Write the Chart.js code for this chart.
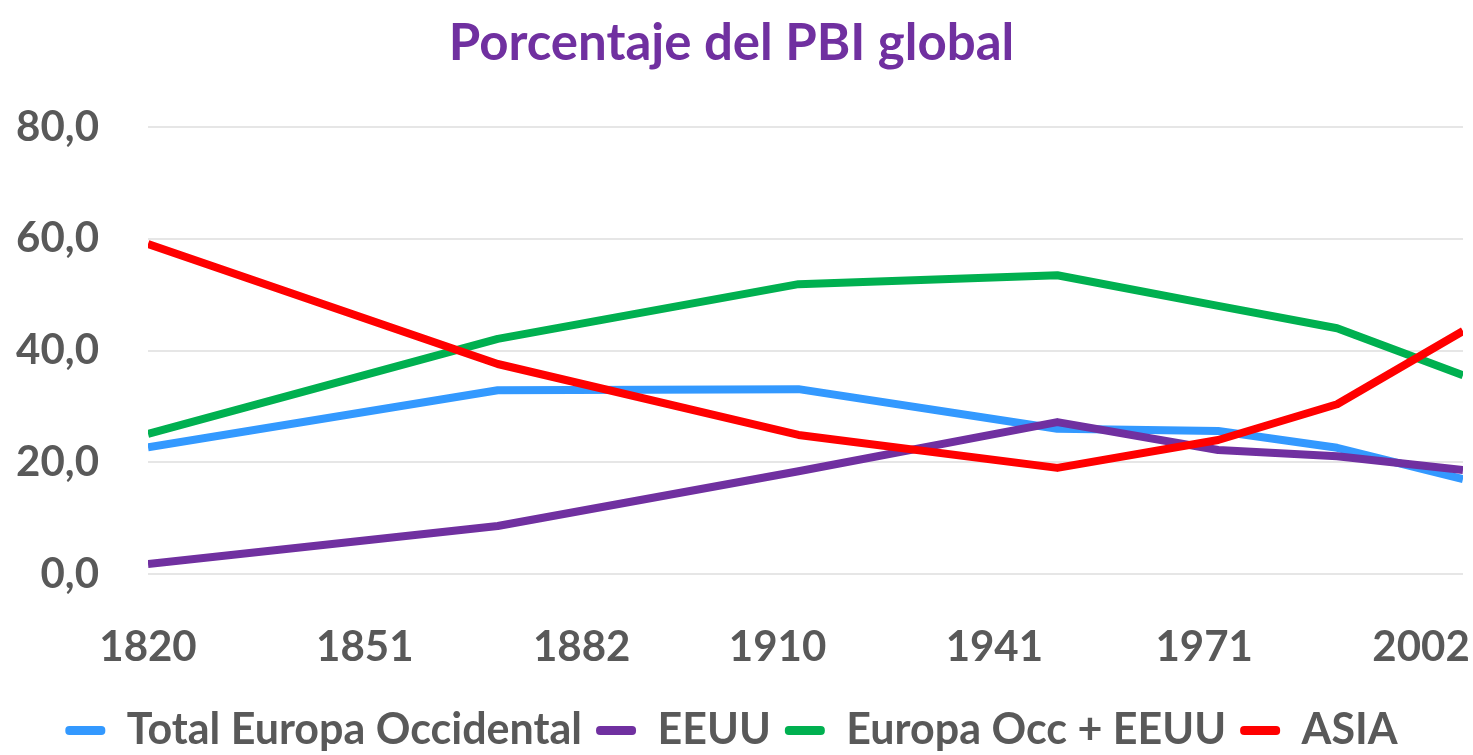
<!DOCTYPE html>
<html>
<head>
<meta charset="utf-8">
<script src="https://cdn.jsdelivr.net/npm/chart.js@4.4.1/dist/chart.umd.min.js"></script>
<style>
  html, body { margin: 0; padding: 0; background: #fff; }
  #wrap { width: 1473px; height: 755px; }
</style>
</head>
<body>
<div id="wrap"><canvas id="my-chart" width="1473" height="755"></canvas></div>
<script>
'use strict'

// data (Maddison-style years)
let years = [1820, 1870, 1913, 1950, 1973, 1990, 2008];
let europaOcc = [22.7, 32.9, 33.1, 26.0, 25.6, 22.6, 17.0];
let eeuu = [1.8, 8.6, 18.4, 27.2, 22.2, 21.1, 18.6];
let europaEeuu = [25.1, 42.1, 51.9, 53.5, 48.0, 44.0, 35.6];
let asia = [59.1, 37.6, 24.9, 19.0, 24.0, 30.4, 43.5];

let tickYears = [1820, 1851, 1882, 1910, 1941, 1971, 2002];
let yTicks = [0, 20, 40, 60, 80];

let seriesNames = ['Total Europa Occidental', 'EEUU', 'Europa Occ + EEUU', 'ASIA'];
let seriesColors = ['#3399FF', '#7030A0', '#00B050', '#FF0000'];

let fontFamily = "Lato, 'Open Sans', sans-serif";
let grayText = '#595959';

function toPoints(values) {
  let pts = [];
  for (let i = 0; i < years.length; i++) {
    pts.push({ x: years[i], y: values[i] });
  }
  return pts;
}

let allValues = [europaOcc, eeuu, europaEeuu, asia];
let datasets = [];
for (let i = 0; i < allValues.length; i++) {
  datasets.push({
    label: seriesNames[i],
    data: toPoints(allValues[i]),
    borderColor: seriesColors[i],
    backgroundColor: seriesColors[i],
    borderWidth: 8,
    pointRadius: 0,
    tension: 0,
    borderJoinStyle: 'round',
    order: allValues.length - i, // later series drawn on top, like Excel
  });
}

let chartContext = document.getElementById('my-chart').getContext('2d');

let chartConfig = {
  type: 'line',
  data: { datasets: datasets },
  options: {
    responsive: false,
    animation: false,
    layout: { padding: { left: 0, right: 10, top: 0, bottom: -7 } },
    plugins: {
      title: {
        display: true,
        text: 'Porcentaje del PBI global',
        color: '#7030A0',
        font: { family: fontFamily, size: 51, weight: 'bold' },
        padding: { top: 13, bottom: 53 },
      },
      legend: {
        position: 'bottom',
        labels: {
          color: grayText,
          font: { family: fontFamily, size: 43, weight: 'bold' },
          boxWidth: 40,
          boxHeight: 9,
          useBorderRadius: true,
          borderRadius: 4,
          padding: 14,
          sort: (a, b) => a.datasetIndex - b.datasetIndex,
          generateLabels: function (chart) {
            return chart.data.datasets.map((ds, i) => ({
              text: ds.label,
              fillStyle: ds.borderColor,
              strokeStyle: ds.borderColor,
              lineWidth: 0,
              borderRadius: 4,
              fontColor: grayText,
              datasetIndex: i,
              hidden: false,
            }));
          },
        },
      },
      tooltip: { enabled: false },
    },
    scales: {
      x: {
        type: 'linear',
        min: 1820,
        max: 2008,
        afterBuildTicks: function (scale) {
          scale.ticks = tickYears.map(v => ({ value: v }));
        },
        afterFit: function (scale) {
          scale.height = 121;
          scale.paddingLeft = 0;
          scale.paddingRight = 0;
        },
        grid: { display: false },
        border: { display: false },
        ticks: {
          autoSkip: false,
          maxRotation: 0,
          padding: 40,
          color: grayText,
          font: { family: fontFamily, size: 42, weight: 'bold' },
          callback: function (value) { return String(value); },
        },
      },
      y: {
        min: 0,
        max: 80,
        afterBuildTicks: function (scale) {
          scale.ticks = yTicks.map(v => ({ value: v }));
        },
        afterFit: function (scale) {
          scale.width = 148;
        },
        grid: { color: '#E6E6E6', lineWidth: 2, drawTicks: false },
        border: { display: false },
        ticks: {
          padding: 49,
          color: grayText,
          font: { family: fontFamily, size: 42, weight: 'bold' },
          callback: function (value) { return value.toFixed(1).replace('.', ','); },
        },
      },
    },
  },
};

let myChart = new Chart(chartContext, chartConfig);
console.log('chartArea', JSON.stringify(myChart.chartArea));
</script>
</body>
</html>
